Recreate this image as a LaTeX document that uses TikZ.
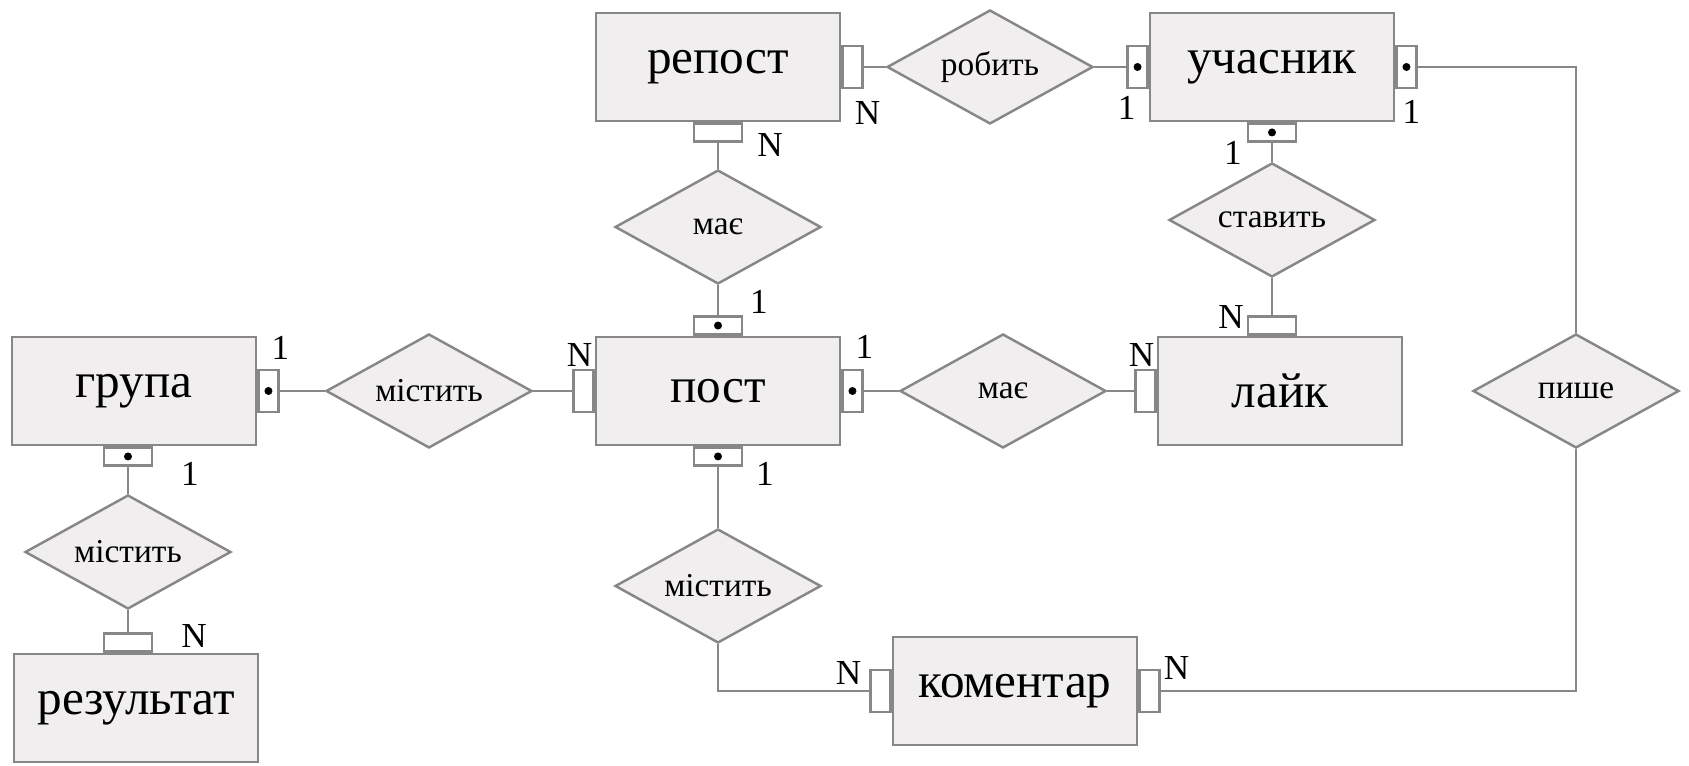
\documentclass[tikz,border=0pt]{standalone}
\usepackage{fontspec}
\setmainfont{Liberation Serif}
\usepackage{tikz}
\usepackage{xcolor}
\usetikzlibrary{shapes.geometric}
\definecolor{boxfill}{RGB}{240,238,238}
\definecolor{boxline}{RGB}{135,135,135}
\tikzstyle{entity} = [rectangle, minimum width=2.44cm, minimum height=1.08cm, text centered, draw=boxline, line width=0.7pt, fill=boxfill, font=\fontsize{14}{16}\selectfont]
\tikzstyle{relation} = [diamond, aspect=1.8, minimum width=2.06cm, minimum height=1.14cm, inner sep=0pt, text centered, draw=boxline, line width=0.7pt, fill=boxfill, font=\fontsize{9.5}{11}\selectfont]
\tikzstyle{vport} = [rectangle, minimum width=0.2cm, minimum height=0.42cm, inner sep=0pt, draw=boxline, line width=0.7pt, fill=white]
\tikzstyle{hport} = [rectangle, minimum width=0.48cm, minimum height=0.18cm, inner sep=0pt, draw=boxline, line width=0.7pt, fill=white]
\tikzstyle{card} = [inner sep=0pt, font=\fontsize{10}{12}\selectfont]
\tikzstyle{line} = [draw=boxline, line width=0.7pt]

\begin{document}
\begin{tikzpicture}[node distance=2cm]
\useasboundingbox (-1.34,3.91) rectangle (15.55,-3.75);
\node (grupa) [entity] {група};
\node (mistA) [relation, right of=grupa, xshift=0.95cm] {містить};
\node (post) [entity, right of=mistA, xshift=0.89cm] {пост};
\node (mayeA) [relation, right of=post, xshift=0.85cm] {має};
\node (layk) [entity, right of=mayeA, xshift=0.77cm] {лайк};
\node (pyshe) [relation, right of=layk, xshift=0.96cm] {пише};
\node (mayeB) [relation, above of=post, yshift=-0.36cm] {має};
\node (repost) [entity, above of=mayeB, yshift=-0.40cm] {репост};
\node (robyt) [relation, right of=repost, xshift=0.72cm] {робить};
\node (uchasnyk) [entity, right of=robyt, xshift=0.82cm] {учасник};
\node (stavyt) [relation, below of=uchasnyk, yshift=0.47cm] {ставить};
\node (mistB) [relation, below of=grupa, yshift=0.39cm, xshift=-0.06cm] {містить};
\node (rezultat) [entity, below of=mistB, yshift=0.44cm, xshift=0.08cm] {результат};
\node (mistC) [relation, below of=post, yshift=0.05cm] {містить};
\node (komentar) [entity, right of=mistC, xshift=0.97cm, yshift=-1.05cm] {коментар};

% ports
\node (pRepR) [vport, anchor=west] at (repost.east) {};
\node (pRepB) [hport, anchor=north] at (repost.south) {};
\node (pUchL) [vport, anchor=east] at (uchasnyk.west) {};
\node (pUchR) [vport, anchor=west] at (uchasnyk.east) {};
\node (pUchB) [hport, anchor=north] at (uchasnyk.south) {};
\node (pLikeT) [hport, anchor=south] at (layk.north -| stavyt) {};
\node (pLikeL) [vport, anchor=east] at (layk.west) {};
\node (pPostT) [hport, anchor=south] at (post.north) {};
\node (pPostL) [vport, anchor=east] at (post.west) {};
\node (pPostR) [vport, anchor=west] at (post.east) {};
\node (pPostB) [hport, anchor=north] at (post.south) {};
\node (pGrR) [vport, anchor=west] at (grupa.east) {};
\node (pGrB) [hport, anchor=north] at (grupa.south -| mistB) {};
\node (pResT) [hport, anchor=south] at (rezultat.north -| mistB) {};
\node (pKomL) [vport, anchor=east] at (komentar.west) {};
\node (pKomR) [vport, anchor=west] at (komentar.east) {};
\foreach \p in {pUchL,pUchR,pUchB,pPostT,pPostR,pPostB,pGrR,pGrB}
  \fill (\p.center) circle (0.04cm);

\draw [line] (pRepR) -- (robyt);
\draw [line] (robyt) -- (pUchL);
\draw [line] (pRepB) -- (mayeB);
\draw [line] (mayeB) -- (pPostT);
\draw [line] (pUchB) -- (stavyt);
\draw [line] (stavyt) -- (pLikeT);
\draw [line] (pGrR) -- (mistA);
\draw [line] (mistA) -- (pPostL);
\draw [line] (pPostR) -- (mayeA);
\draw [line] (mayeA) -- (pLikeL);
\draw [line] (pGrB) -- (mistB);
\draw [line] (mistB) -- (pResT);
\draw [line] (pPostB) -- (mistC);
\draw [line] (mistC.south) |- (pKomL);
\draw [line] (pUchR) -| (pyshe);
\draw [line] (pKomR) -| (pyshe);

% cardinalities
\node (cRepR) [card] at ([shift={(0.15,-0.46)}]pRepR.center) {N};
\node (cUchL) [card] at ([shift={(-0.11,-0.41)}]pUchL.center) {1};
\node (cUchR) [card] at ([shift={(0.05,-0.45)}]pUchR.center) {1};
\node (cRepB) [card] at ([shift={(0.52,-0.13)}]pRepB.center) {N};
\node (cUchB) [card] at ([shift={(-0.39,-0.20)}]pUchB.center) {1};
\node (cLikeT) [card] at ([shift={(-0.41,0.09)}]pLikeT.center) {N};
\node (cPostT) [card] at ([shift={(0.41,0.24)}]pPostT.center) {1};
\node (cGrR) [card] at ([shift={(0.12,0.43)}]pGrR.center) {1};
\node (cPostL) [card] at ([shift={(-0.04,0.36)}]pPostL.center) {N};
\node (cPostR) [card] at ([shift={(0.12,0.44)}]pPostR.center) {1};
\node (cLikeL) [card] at ([shift={(-0.04,0.36)}]pLikeL.center) {N};
\node (cGrB) [card] at ([shift={(0.62,-0.17)}]pGrB.center) {1};
\node (cResT) [card] at ([shift={(0.66,0.07)}]pResT.center) {N};
\node (cPostB) [card] at ([shift={(0.47,-0.17)}]pPostB.center) {1};
\node (cKomL) [card] at ([shift={(-0.32,0.18)}]pKomL.center) {N};
\node (cKomR) [card] at ([shift={(0.27,0.23)}]pKomR.center) {N};
\end{tikzpicture}
\end{document}
